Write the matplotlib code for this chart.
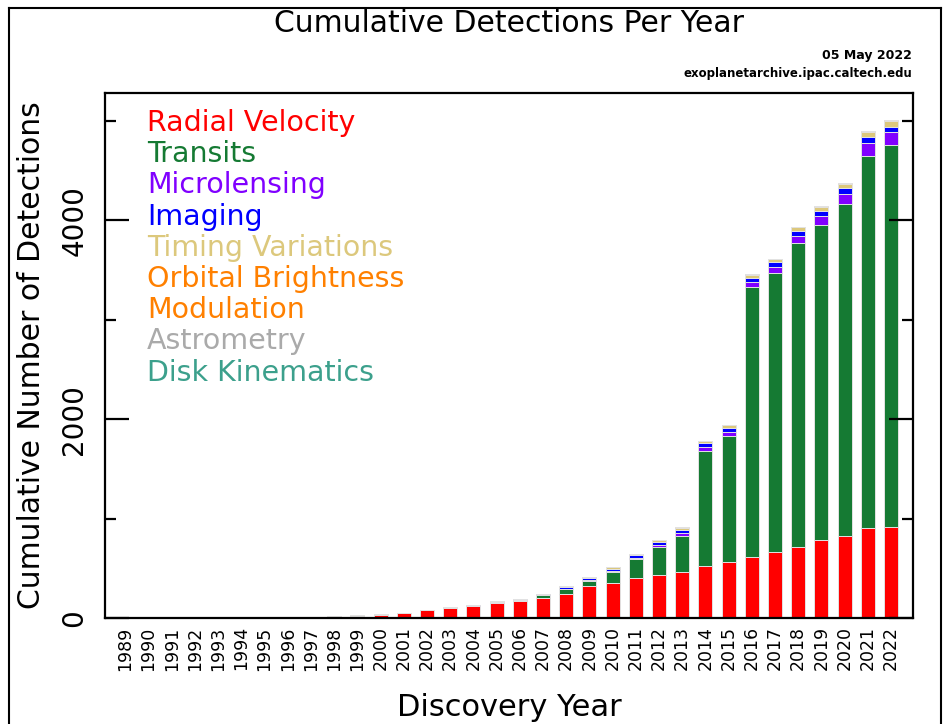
import matplotlib
matplotlib.use('Agg')
import matplotlib.pyplot as plt
from matplotlib.lines import Line2D
import numpy as np

years = list(range(1989, 2023))

# cumulative detections per method
radial_velocity = [1, 1, 1, 1, 1, 1, 2, 7, 8, 12, 22, 35, 50, 80, 99, 122, 149, 169, 203, 240,
                   317, 357, 400, 434, 467, 521, 565, 611, 665, 712, 782, 826, 903, 913]
transits = [0, 0, 0, 0, 0, 0, 0, 0, 0, 0, 0, 0, 0, 0, 1, 3, 6, 15, 24, 48,
            59, 105, 189, 281, 360, 1162, 1262, 2718, 2804, 3056, 3166, 3334, 3745, 3842]
microlensing = [0, 0, 0, 0, 0, 0, 0, 0, 0, 0, 0, 0, 0, 0, 1, 1, 3, 4, 5, 8,
                9, 12, 14, 22, 27, 33, 41, 46, 60, 75, 93, 107, 128, 128]
imaging = [0, 0, 0, 0, 0, 0, 0, 0, 0, 0, 0, 0, 0, 0, 0, 1, 3, 3, 5, 15,
           17, 22, 27, 31, 35, 40, 44, 47, 47, 49, 53, 54, 57, 60]
timing = [0, 0, 0, 2, 3, 5, 5, 5, 5, 5, 5, 5, 5, 5, 5, 5, 5, 5, 6, 6,
          8, 12, 16, 19, 20, 23, 25, 30, 30, 36, 40, 45, 52, 53]
orbital_brightness = [0, 0, 0, 0, 0, 0, 0, 0, 0, 0, 0, 0, 0, 0, 0, 0, 0, 0, 0, 0,
                      0, 0, 2, 2, 3, 4, 4, 6, 6, 6, 7, 9, 9, 9]
astrometry = [0, 0, 0, 0, 0, 0, 0, 0, 0, 0, 0, 0, 0, 0, 0, 0, 0, 0, 0, 0,
              0, 0, 0, 0, 1, 1, 1, 1, 1, 1, 1, 1, 1, 1]
disk_kinematics = [0, 0, 0, 0, 0, 0, 0, 0, 0, 0, 0, 0, 0, 0, 0, 0, 0, 0, 0, 0,
                   0, 0, 0, 0, 0, 0, 0, 0, 0, 0, 1, 1, 1, 1]

series = [
    ('Radial Velocity', radial_velocity, '#ff0000'),
    ('Transits', transits, '#157a33'),
    ('Microlensing', microlensing, '#8000ff'),
    ('Imaging', imaging, '#0000ff'),
    ('Timing Variations', timing, '#dcc87c'),
    ('Orbital Brightness\nModulation', orbital_brightness, '#ff8000'),
    ('Astrometry', astrometry, '#aaaaaa'),
    ('Disk Kinematics', disk_kinematics, '#3ca08c'),
]

fig = plt.figure(figsize=(9.44, 7.24), dpi=100)
ax = fig.add_axes([105/944, 1 - 618/724, (913-105)/944, (618-93)/724])

x = np.arange(len(years))
bottom = np.zeros(len(years))
for name, vals, color in series:
    vals = np.array(vals, dtype=float)
    ax.bar(x, vals, bottom=bottom, width=0.6, color=color,
           edgecolor='#e2e2e2', linewidth=0.7)
    bottom += vals

ax.set_xlim(-0.88, 33.95)
ax.set_ylim(0, 5280)

ax.set_xticks(x)
ax.set_xticklabels([str(y) for y in years], rotation=90, fontsize=12.5)
ax.tick_params(axis='x', length=0, pad=6)

ax.set_yticks([0, 2000, 4000])
ax.set_yticks([1000, 3000, 5000], minor=True)
ax.set_yticklabels(['0', '2000', '4000'], rotation=90, va='center', fontsize=20)
ax.tick_params(axis='y', which='major', direction='in', length=17, width=1.6,
               left=True, right=True, pad=12)
ax.tick_params(axis='y', which='minor', direction='in', length=8, width=1.6,
               left=True, right=True)

for s in ax.spines.values():
    s.set_linewidth(1.6)

ax.set_ylabel('Cumulative Number of Detections', fontsize=21.5, labelpad=10)
ax.set_xlabel('Discovery Year', fontsize=22, labelpad=16,
              family=['Liberation Sans Narrow', 'DejaVu Sans'])

fig.text(509/944, 1 - 23/724, 'Cumulative Detections Per Year', ha='center',
         va='center', fontsize=21.5)
fig.text(912/944, 1 - 56/724, '05 May 2022', ha='right', va='center',
         fontsize=9, fontweight='bold')
fig.text(912/944, 1 - 73/724, 'exoplanetarchive.ipac.caltech.edu', ha='right',
         va='center', fontsize=8.5, fontweight='bold')

# legend as coloured text lines
legend_lines = []
for name, vals, color in series:
    for part in name.split('\n'):
        legend_lines.append((part, color))
for i, (txt, color) in enumerate(legend_lines):
    fig.text(147/944, 1 - (123 + i*31.2)/724, txt, color=color, fontsize=20.5,
             ha='left', va='center')

# outer frame
for xs, ys in [([9/944, 9/944], [0, 1 - 8/724]),
               ([9/944, 941/944], [1 - 8/724, 1 - 8/724]),
               ([941/944, 941/944], [0, 1 - 8/724])]:
    fig.add_artist(Line2D(xs, ys, color='black', linewidth=1.5))

plt.savefig('out.png', dpi=100)
